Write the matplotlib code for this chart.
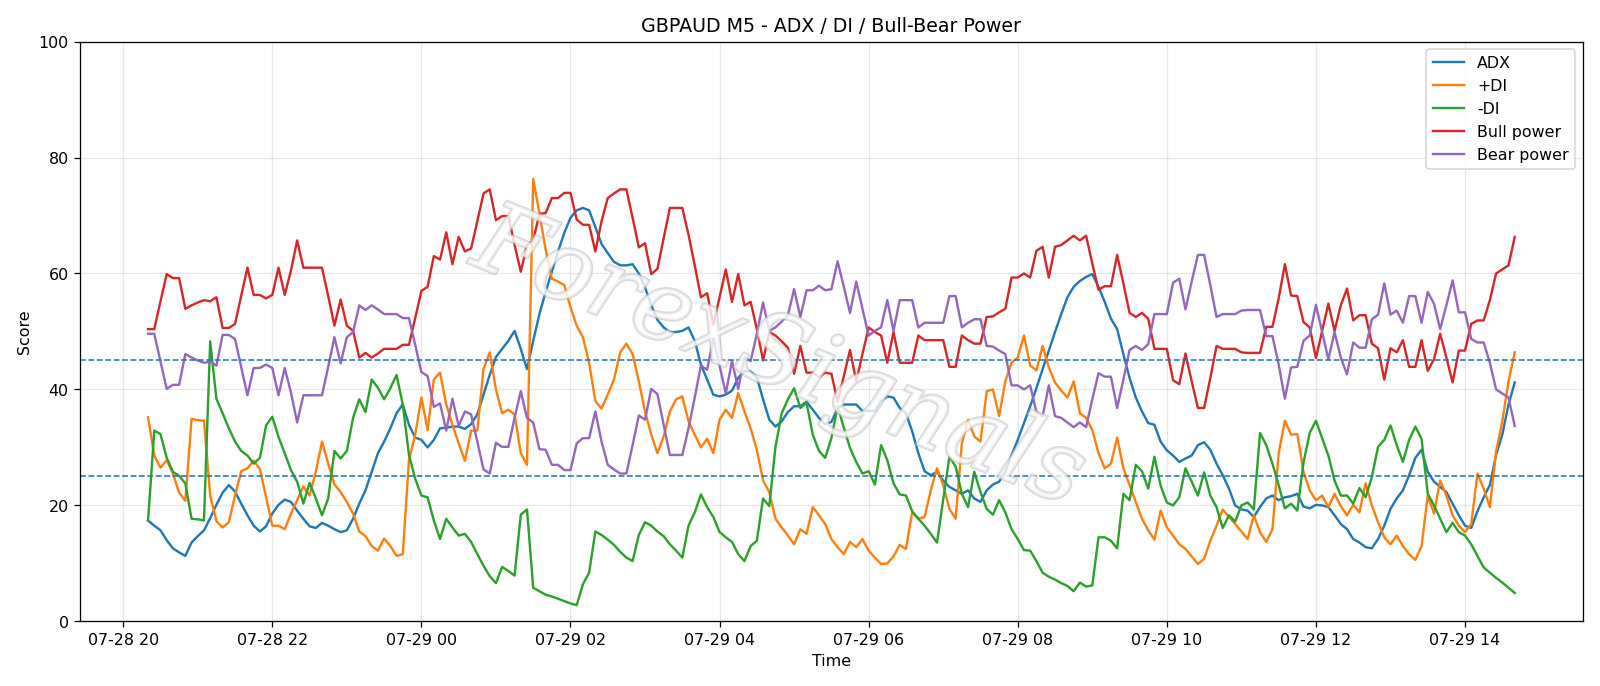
import matplotlib
matplotlib.use('Agg')
import matplotlib.pyplot as plt
import matplotlib.patheffects as pe
import pandas as pd

# 5-minute bars, 07-28 20:20 -> 07-29 14:40
start = '2025-07-28 20:20'
n_bars = 221

adx = [17.4, 16.5, 15.7, 14.0, 12.6, 11.9, 11.3, 13.6, 14.7, 15.7, 17.8, 20.1, 22.2, 23.5, 22.4, 20.3, 18.3, 16.5, 15.5, 16.4, 18.6, 20.1, 21.0, 20.6, 19.1, 17.7, 16.4, 16.1,
       17.0, 16.5, 15.9, 15.4, 15.7, 17.7, 20.3, 22.6, 25.8, 29.0, 31.0, 33.3, 35.9, 37.4, 33.9, 31.7, 31.3, 30.0, 31.3, 33.3, 33.4, 33.6, 33.6, 33.2, 34.0, 35.7, 39.1, 42.5,
       45.6, 47.0, 48.4, 50.1, 47.0, 43.5, 48.4, 53.0, 56.8, 60.3, 63.8, 67.0, 69.6, 70.9, 71.3, 70.9, 68.0, 65.1, 63.5, 62.0, 61.4, 61.4, 61.6, 60.0, 57.6, 54.5, 52.0,
       50.7, 49.9, 49.9, 50.1, 50.7, 48.4, 44.3, 41.7, 39.1, 38.8, 39.1, 39.8, 42.0, 43.2, 43.1, 42.1, 38.3, 34.8, 33.6, 34.5, 36.1, 37.1, 37.1, 37.9, 36.5, 35.1, 34.0,
       34.4, 36.7, 37.4, 37.4, 37.4, 36.3, 36.3, 36.3, 38.0, 38.8, 38.6, 36.8, 35.9, 32.8, 29.0, 25.9, 25.2, 25.8, 24.3, 23.2, 22.6, 22.0, 22.6, 21.2, 20.6, 22.6, 23.6, 24.1,
       25.8, 28.7, 31.3, 34.2, 37.1, 40.2, 43.5, 46.7, 49.9, 53.0, 55.9, 57.7, 58.7, 59.4, 59.9, 57.7, 55.1, 52.2, 50.4, 46.1, 42.0, 38.6, 36.2, 34.2, 33.9, 31.0, 29.5,
       28.6, 27.5, 28.1, 28.6, 30.4, 30.9, 29.6, 27.2, 25.2, 22.9, 20.0, 19.3, 19.1, 18.0, 19.7, 21.2, 21.7, 20.9, 21.4, 21.6, 22.0, 19.8, 19.5, 20.1, 20.0, 19.7, 18.3, 16.8,
       15.9, 14.2, 13.6, 12.8, 12.6, 14.2, 16.5, 19.4, 21.2, 22.6, 25.2, 28.2, 29.6, 25.8, 24.1, 23.2, 22.3, 20.3, 18.3, 16.5, 16.1, 19.0, 21.4, 23.5, 28.7, 32.2, 37.4, 41.2]

plus_di = [35.2, 28.6, 26.5, 27.8, 25.5, 22.2, 20.8, 34.9, 34.7, 34.6, 21.7, 17.3, 16.2, 17.1, 21.7, 25.9, 26.4, 27.7, 26.3, 21.4, 16.5, 16.5, 15.9, 18.6, 20.9, 23.3, 21.7, 25.8,
           31.0, 27.2, 23.6, 22.3, 20.6, 18.6, 15.5, 14.7, 13.0, 12.2, 14.3, 13.0, 11.3, 11.6, 27.8, 32.2, 38.6, 33.0, 41.7, 42.9, 37.4, 33.9, 30.7, 27.7, 32.9, 32.9, 43.5, 46.4,
           40.0, 35.9, 36.5, 35.7, 29.0, 27.0, 76.3, 70.4, 64.1, 59.1, 58.6, 58.0, 54.2, 51.0, 49.0, 44.6, 38.0, 36.7, 39.1, 41.7, 46.4, 47.9, 46.1, 41.4, 36.2, 32.2, 29.0,
           31.9, 36.2, 38.3, 38.8, 34.5, 32.2, 30.0, 31.5, 29.0, 34.8, 36.5, 35.1, 39.4, 36.2, 33.3, 29.6, 24.3, 22.3, 17.7, 16.2, 14.8, 13.3, 15.9, 15.1, 19.7, 18.3, 16.8,
           14.2, 12.8, 11.6, 13.7, 12.8, 14.2, 12.2, 11.0, 9.9, 10.0, 11.2, 13.2, 12.5, 18.8, 17.7, 18.0, 22.6, 26.4, 23.5, 19.4, 17.7, 30.7, 34.8, 31.9, 31.0, 39.7, 40.0, 35.4,
           41.4, 44.6, 45.5, 49.3, 44.1, 43.3, 47.5, 43.8, 41.2, 39.8, 38.6, 41.4, 35.9, 35.1, 33.0, 29.0, 26.4, 27.2, 31.7, 26.4, 23.5, 20.6, 17.7, 15.7, 14.1, 19.1, 16.2,
           14.8, 13.3, 12.5, 11.2, 9.9, 10.8, 13.9, 16.5, 19.3, 18.0, 16.8, 15.5, 14.2, 18.3, 15.4, 13.7, 15.9, 29.0, 34.6, 32.2, 32.3, 25.8, 22.6, 20.9, 21.7, 19.7, 22.0, 19.9,
           18.3, 20.1, 18.8, 23.8, 20.0, 17.1, 14.5, 13.3, 14.8, 13.0, 11.6, 10.6, 13.0, 21.7, 18.6, 24.3, 21.7, 18.3, 16.5, 15.4, 16.8, 25.5, 22.9, 19.7, 29.3, 34.5, 41.4, 46.4]

minus_di = [17.4, 32.9, 32.3, 28.2, 25.8, 25.1, 23.8, 17.7, 17.6, 17.4, 48.3, 38.4, 35.9, 33.3, 31.0, 29.4, 28.6, 27.2, 28.2, 33.8, 35.3, 31.8, 29.0, 26.1, 24.1, 20.3, 23.9, 21.2,
            18.3, 21.2, 29.4, 28.1, 29.4, 35.1, 38.3, 36.1, 41.7, 40.3, 38.3, 40.2, 42.5, 37.4, 28.7, 24.6, 21.7, 21.4, 17.4, 14.2, 17.7, 16.2, 14.8, 15.1, 13.7, 11.6, 9.6, 7.8,
            6.6, 9.4, 8.7, 7.9, 18.4, 19.3, 5.8, 5.2, 4.6, 4.3, 3.9, 3.5, 3.1, 2.8, 6.4, 8.4, 15.5, 14.9, 14.1, 13.2, 12.0, 11.0, 10.4, 14.9, 17.1, 16.5, 15.5,
            14.7, 13.3, 12.2, 11.0, 16.5, 18.8, 21.9, 19.7, 18.0, 15.4, 14.5, 13.7, 11.6, 10.4, 13.0, 13.9, 21.2, 19.9, 30.1, 35.9, 38.3, 40.2, 36.8, 37.7, 32.2, 29.4, 28.2,
            31.6, 37.1, 33.4, 29.9, 27.5, 25.5, 25.9, 23.6, 30.4, 27.8, 23.8, 21.9, 21.7, 19.0, 17.7, 16.5, 15.1, 13.6, 21.0, 28.4, 26.7, 22.0, 19.7, 25.8, 22.3, 19.4, 18.4, 20.9,
            18.8, 15.9, 14.2, 12.3, 12.2, 10.4, 8.4, 7.7, 7.2, 6.6, 6.1, 5.2, 6.7, 6.0, 6.2, 14.5, 14.5, 13.9, 12.6, 22.0, 20.9, 27.0, 25.9, 22.9, 28.4, 23.4, 20.5,
            20.0, 21.4, 26.4, 24.1, 21.7, 25.7, 21.7, 19.7, 16.1, 18.3, 17.2, 20.0, 20.5, 19.3, 32.5, 30.4, 27.2, 23.5, 19.5, 20.3, 19.1, 27.4, 32.5, 34.6, 31.6, 28.6, 24.3, 21.7,
            21.7, 20.3, 23.0, 21.4, 24.9, 30.1, 31.3, 33.8, 30.4, 27.5, 31.3, 33.6, 31.5, 22.0, 20.0, 17.7, 15.4, 17.0, 15.4, 14.8, 13.3, 11.3, 9.3, 8.4, 7.5, 6.7, 5.8, 4.9]

bull_power = [50.4, 50.4, 55.2, 59.9, 59.2, 59.2, 53.9, 54.5, 55.0, 55.4, 55.2, 55.9, 50.6, 50.6, 51.3, 56.2, 61.0, 56.3, 56.3, 55.7, 56.3, 61.0, 56.3, 60.5, 65.7, 61.0, 61.0, 61.0,
              61.0, 56.1, 51.0, 55.5, 51.0, 50.1, 45.5, 46.3, 45.5, 46.2, 47.0, 47.0, 47.0, 47.7, 47.7, 52.3, 57.0, 57.7, 63.0, 62.4, 67.1, 61.6, 66.3, 63.8, 64.3, 69.0, 73.8, 74.5,
              69.2, 69.9, 69.9, 64.9, 60.3, 64.9, 65.7, 70.3, 70.4, 73.0, 73.0, 73.9, 73.9, 69.3, 68.4, 68.4, 63.8, 69.0, 73.0, 73.8, 74.5, 74.5, 69.6, 64.5, 65.2, 59.9, 60.8,
              66.1, 71.3, 71.3, 71.3, 66.7, 61.4, 55.9, 56.6, 51.2, 55.9, 60.7, 55.1, 59.9, 54.5, 55.1, 50.4, 45.0, 49.9, 49.3, 48.3, 47.2, 42.7, 47.5, 42.9, 42.9, 42.1, 42.9,
              42.7, 37.9, 42.3, 46.8, 41.4, 46.1, 50.7, 49.9, 49.3, 44.6, 49.9, 44.6, 44.6, 44.6, 49.3, 48.5, 48.5, 48.5, 48.5, 43.9, 43.9, 49.3, 48.5, 47.9, 47.9, 52.5, 52.6, 53.3,
              53.9, 59.3, 59.3, 60.0, 59.3, 63.9, 64.6, 59.3, 64.6, 64.9, 65.7, 66.5, 65.7, 66.5, 61.7, 57.2, 57.8, 57.8, 63.2, 58.3, 53.2, 52.5, 53.2, 52.2, 47.0, 47.0, 47.0,
              41.6, 40.9, 46.2, 41.4, 36.8, 36.8, 42.0, 47.5, 47.0, 47.0, 47.0, 46.4, 46.3, 46.3, 46.3, 50.8, 50.8, 55.7, 61.6, 56.2, 56.1, 51.6, 50.7, 45.4, 50.1, 54.8, 50.1, 54.5,
              57.4, 51.9, 52.8, 52.8, 47.9, 47.1, 41.7, 47.1, 46.4, 48.5, 43.9, 43.9, 48.5, 43.2, 45.2, 49.6, 45.5, 41.2, 46.7, 46.7, 51.3, 51.9, 51.9, 55.4, 60.0, 60.7, 61.4, 66.3]

bear_power = [49.6, 49.6, 44.8, 40.1, 40.8, 40.8, 46.1, 45.5, 45.0, 44.6, 44.8, 44.1, 49.4, 49.4, 48.7, 43.8, 39.0, 43.7, 43.7, 44.3, 43.7, 39.0, 43.7, 39.5, 34.3, 39.0, 39.0, 39.0,
              39.0, 43.9, 49.0, 44.5, 49.0, 49.9, 54.5, 53.7, 54.5, 53.8, 53.0, 53.0, 53.0, 52.3, 52.3, 47.7, 43.0, 42.3, 37.0, 37.6, 32.9, 38.4, 33.7, 36.2, 35.7, 31.0, 26.2, 25.5,
              30.8, 30.1, 30.1, 35.1, 39.7, 35.1, 34.3, 29.7, 29.6, 27.0, 27.0, 26.1, 26.1, 30.7, 31.6, 31.6, 36.2, 31.0, 27.0, 26.2, 25.5, 25.5, 30.4, 35.5, 34.8, 40.1, 39.2,
              33.9, 28.7, 28.7, 28.7, 33.3, 38.6, 44.1, 43.4, 48.8, 44.1, 39.3, 44.9, 40.1, 45.5, 44.9, 49.6, 55.0, 50.1, 50.7, 51.7, 52.8, 57.3, 52.5, 57.1, 57.1, 57.9, 57.1,
              57.3, 62.1, 57.7, 53.2, 58.6, 53.9, 49.3, 50.1, 50.7, 55.4, 50.1, 55.4, 55.4, 55.4, 50.7, 51.5, 51.5, 51.5, 51.5, 56.1, 56.1, 50.7, 51.5, 52.1, 52.1, 47.5, 47.4, 46.7,
              46.1, 40.7, 40.7, 40.0, 40.7, 36.1, 35.4, 40.7, 35.4, 35.1, 34.3, 33.5, 34.3, 33.5, 38.3, 42.8, 42.2, 42.2, 36.8, 41.7, 46.8, 47.5, 46.8, 47.8, 53.0, 53.0, 53.0,
              58.4, 59.1, 53.8, 58.6, 63.2, 63.2, 58.0, 52.5, 53.0, 53.0, 53.0, 53.6, 53.7, 53.7, 53.7, 49.2, 49.2, 44.3, 38.4, 43.8, 43.9, 48.4, 49.3, 54.6, 49.9, 45.2, 49.9, 45.5,
              42.6, 48.1, 47.2, 47.2, 52.1, 52.9, 58.3, 52.9, 53.6, 51.5, 56.1, 56.1, 51.5, 56.8, 54.8, 50.4, 54.5, 58.8, 53.3, 53.3, 48.7, 48.1, 48.1, 44.6, 40.0, 39.3, 38.6, 33.7]

levels = [25, 45]

times = pd.date_range(start, periods=n_bars, freq='5min')

fig, ax = plt.subplots(figsize=(14, 6.003), dpi=114.3)

ax.plot(times, adx, label='ADX')
ax.plot(times, plus_di, label='+DI')
ax.plot(times, minus_di, label='-DI')
ax.plot(times, bull_power, label='Bull power')
ax.plot(times, bear_power, label='Bear power')
for lv in levels:
    ax.axhline(lv, linestyle='--', linewidth=1, color='tab:blue')

ax.set_ylim(0, 100)
ax.set_title('GBPAUD M5 - ADX / DI / Bull-Bear Power')
ax.set_xlabel('Time')
ax.set_ylabel('Score')
ax.grid(True, alpha=0.3)
ax.legend(loc='upper right')

# watermark
ax.text(0.465, 0.45, 'ForexSignals', transform=ax.transAxes, fontsize=62,
        family='DejaVu Serif', style='italic', color='white', alpha=0.55,
        rotation=-22, ha='center', va='center', zorder=5,
        path_effects=[pe.withStroke(linewidth=2, foreground='#bbbbbb')])

plt.tight_layout()
plt.savefig('out.png')
